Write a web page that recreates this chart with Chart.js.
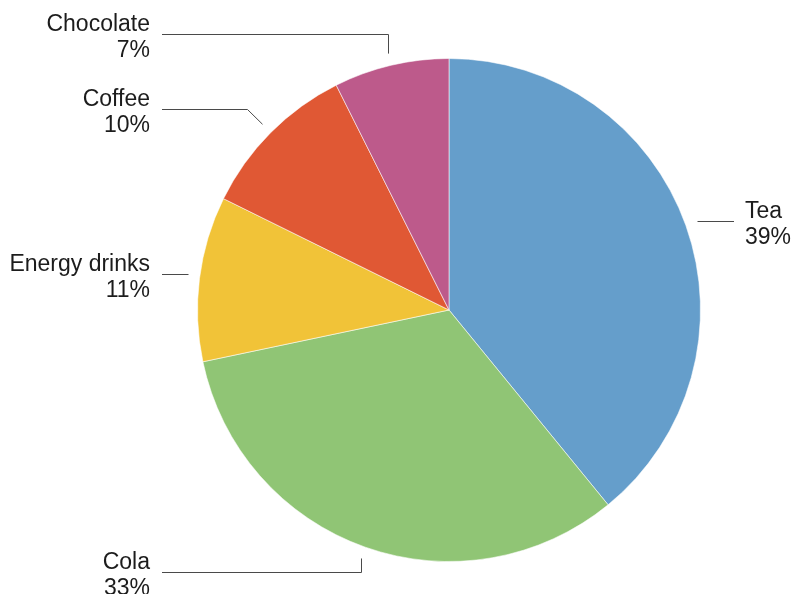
<!DOCTYPE html>
<html>
<head>
<meta charset="utf-8">
<script src="https://cdn.jsdelivr.net/npm/chart.js@4"></script>
<style>
  html, body { margin: 0; padding: 0; background: #fff; }
  #wrap { width: 794px; height: 594px; position: relative; }
</style>
</head>
<body>
<div id="wrap"><canvas id="pie"></canvas></div>
<script>
(function () {
    "use strict";

    const categories = ["Tea", "Cola", "Energy drinks", "Coffee", "Chocolate"];
    const shares = [39.1, 32.6, 10.6, 10.3, 7.4];
    const colors = ["#659ecb", "#90c575", "#f1c338", "#e05834", "#bd5a8b"];

    // leader-line tweaks per label: vertical shift of the label row and how slanted the elbow is
    const labelShift = [-1, 14, -3, -15, -20];
    const elbowSlant = [0, 0, 0, 1, 0];

    const FONT = '23px "Liberation Sans", Arial, Helvetica, sans-serif';

    const calloutPlugin = {
        id: "callouts",
        afterDatasetsDraw(chart) {
            const ctx = chart.ctx;
            const area = chart.chartArea;
            const meta = chart.getDatasetMeta(0);
            const total = shares.reduce(function (a, b) { return a + b; }, 0);
            ctx.save();
            ctx.font = FONT;
            ctx.textBaseline = "middle";
            meta.data.forEach(function (arc, i) {
                const p = arc.getProps(["x", "y", "startAngle", "endAngle", "outerRadius"], true);
                const mid = (p.startAngle + p.endAngle) / 2;
                const r = p.outerRadius + 12;
                const ax = p.x + Math.cos(mid) * r;
                const ay = p.y + Math.sin(mid) * r;
                const right = Math.cos(mid) >= 0;
                const dir = right ? 1 : -1;
                const lineY = Math.round(ay + labelShift[i]) + 0.5;
                const straight = Math.abs(labelShift[i]) <= 3;
                const elbowX = ax + dir * Math.abs(labelShift[i]) * elbowSlant[i];
                const endX = right ? area.right + 33 : area.left - 35;

                ctx.strokeStyle = "#4a4a4a";
                ctx.lineWidth = 1;
                ctx.beginPath();
                ctx.moveTo(Math.round(ax) + 0.5, straight ? lineY : ay);
                if (!straight) ctx.lineTo(Math.round(elbowX) + 0.5, lineY);
                ctx.lineTo(endX, lineY);
                ctx.stroke();

                const tx = right ? area.right + 44 : area.left - 47;
                ctx.fillStyle = "#1c1c1c";
                ctx.textAlign = right ? "left" : "right";
                ctx.fillText(categories[i], tx, lineY - 10);
                ctx.fillText(Math.round(shares[i] / total * 100) + "%", tx, lineY + 16);
            });
            ctx.restore();
        }
    };

    document.addEventListener("DOMContentLoaded", function () {
        new Chart(document.getElementById("pie").getContext("2d"), {
            type: "pie",
            data: {
                labels: categories,
                datasets: [{
                    data: shares,
                    backgroundColor: colors,
                    borderColor: "rgba(255,255,255,0.55)",
                    borderWidth: 1,
                    hoverOffset: 0
                }]
            },
            options: {
                responsive: true,
                maintainAspectRatio: false,
                animation: false,
                layout: { padding: { top: 58, bottom: 32, left: 197, right: 93 } },
                plugins: {
                    legend: { display: false },
                    tooltip: { enabled: false }
                }
            },
            plugins: [calloutPlugin]
        });
    });
})();
</script>
</body>
</html>
